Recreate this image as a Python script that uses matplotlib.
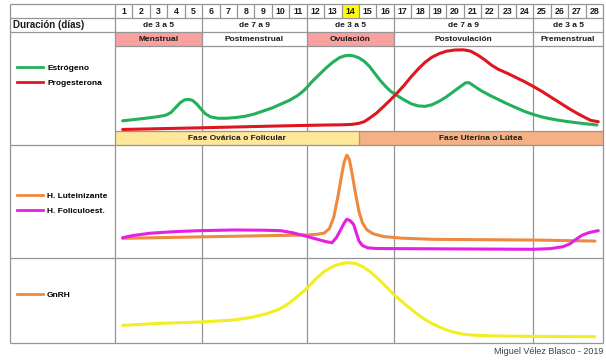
import matplotlib
matplotlib.use('Agg')
import matplotlib.pyplot as plt
from matplotlib.patches import Rectangle
from matplotlib.lines import Line2D

plt.rcParams['font.family'] = ['Liberation Sans Narrow', 'Liberation Sans', 'DejaVu Sans']

# ---------------- data ----------------
days = list(range(1, 29))
highlight_day = 14
stage_ends = [5, 11, 16, 24, 28]
durations = ['de 3 a 5', 'de 7 a 9', 'de 3 a 5', 'de 7 a 9', 'de 3 a 5']
stages = ['Menstrual', 'Postmenstrual', 'Ovulación', 'Postovulación', 'Premenstrual']
phase_names = ['Fase Ovárica o Folicular', 'Fase Uterina o Lútea']
phase_ends = [14, 28]

# x in days (0 = start of day 1), y in % of panel height
estro_x = [0.44, 1.0, 1.5, 2.0, 2.5, 2.9, 3.2, 3.5, 3.75, 4.0, 4.2, 4.45, 4.7, 4.95, 5.2, 5.5,
           5.9, 6.4, 7.0, 7.5, 8.0, 8.5, 9.0, 9.5, 10.0, 10.5, 10.8, 11.0, 11.3, 11.7, 12.1,
           12.5, 12.9, 13.2, 13.45, 13.7, 14.0, 14.3, 14.6, 14.9, 15.2, 15.5, 15.8, 16.2, 16.6,
           17.0, 17.4, 17.8, 18.2, 18.6, 19.0, 19.4, 19.8, 20.1, 20.3, 20.6, 21.0, 21.5, 22.0,
           22.5, 23.0, 23.5, 24.0, 24.5, 25.0, 25.5, 26.0, 26.5, 27.0, 27.65]
estro_y = [12, 13.2, 14.4, 15.6, 17, 18.5, 21.5, 28, 33.5, 36.7, 37.3, 36, 31.5, 25.5, 20, 16.5,
           15, 15, 16, 17.5, 20, 23.5, 27, 31.5, 36, 42, 47, 51, 58, 66, 74,
           81, 86.5, 88.5, 89, 88.3, 86, 82, 76, 68, 60, 53, 47, 41.5, 36.5,
           32, 29.5, 29, 31, 35, 40, 46, 52, 56.5, 57, 53, 47.5, 42, 37,
           32, 27.5, 23, 19.5, 16.5, 14.3, 12.5, 11, 9.7, 8.5, 7.1]

proge_x = [0.44, 5.0, 10.0, 11.0, 12.0, 13.0, 13.6, 14.0, 14.3, 14.6, 15.0, 15.4, 15.8, 16.2,
           16.6, 17.0, 17.4, 17.8, 18.2, 18.6, 19.0, 19.5, 20.0, 20.4, 20.8, 21.2, 21.6, 22.0,
           22.5, 23.0, 23.5, 24.0, 24.5, 25.0, 25.5, 26.0, 26.5, 27.0, 27.3, 27.73]
proge_y = [1.8, 3.8, 6.2, 6.6, 7.0, 7.3, 7.8, 9, 11, 15, 21, 28.6, 36.5, 45,
           54, 64, 73, 81, 87, 91, 93.8, 95.3, 95.5, 94, 89.5, 84, 77.5, 72.5,
           68, 63, 58, 52.5, 46.5, 40, 33.5, 27, 21, 15.5, 12.5, 10.9]

lh_x = [0.44, 6.0, 11.0, 11.6, 12.0, 12.3, 12.55, 12.8, 13.0, 13.15, 13.3, 13.45, 13.6, 13.8,
        14.0, 14.2, 14.45, 14.8, 15.4, 16.5, 18.3, 24.0, 27.54]
lh_y = [17.4, 19, 20.4, 21, 22, 26, 36, 55, 73, 85, 91, 87, 75, 57,
        41, 31, 25, 21.5, 19, 17.5, 16.5, 15.9, 15.0]

fsh_x = [0.44, 1.0, 2.0, 3.5, 4.9, 6.8, 8.5, 9.5, 10.2, 10.8, 11.5, 12.1, 12.45, 12.7, 12.95,
         13.15, 13.3, 13.5, 13.7, 13.85, 14.0, 14.2, 14.5, 15.0, 20.0, 24.0, 25.0, 25.7, 26.1,
         26.45, 26.8, 27.2, 27.73]
fsh_y = [18, 19.8, 21.9, 23.4, 24.2, 24.8, 24.6, 24.2, 22.3, 20, 17, 14.5, 13.5, 18, 25,
         31, 34.3, 33, 29.5, 22, 15, 11, 9, 8.4, 8.0, 7.7, 8.3, 10, 12.5,
         16.5, 20.2, 22.5, 24.2]

gnrh_x = [0.44, 2.5, 4.88, 6.8, 7.8, 8.7, 9.4, 10.0, 10.6, 11.0, 11.5, 12.0, 12.5, 13.0, 13.4,
          13.8, 14.2, 14.6, 15.0, 15.5, 16.0, 16.5, 17.0, 17.5, 18.0, 18.5, 19.0, 19.5, 20.0,
          20.7, 22.0, 24.0, 27.54]
gnrh_y = [20.8, 23, 24.7, 27, 30, 34.5, 39.5, 47, 57, 64, 75, 84, 90, 93.5, 94.5,
          93.5, 90, 84.5, 77.5, 67.5, 57, 48, 39.5, 31.5, 25, 19.8, 15.5, 12.3, 10.3,
          9, 8.2, 7.8, 7.4]

# ---------------- style ----------------
C_GREEN = '#22B05A'
C_RED = '#E0161E'
C_ORANGE = '#EE8A40'
C_MAG = '#E61EE6'
C_YEL = '#F3EE22'
C_PINK = '#F9A0A0'
C_PH1 = '#FFE699'
C_PH2 = '#F4B183'
C_HL = '#FFFF00'
GRID = '#959595'
TXT = '#1A1A1A'

W, H = 606, 360
fig = plt.figure(figsize=(W / 100, H / 100), dpi=100)
bg = fig.add_axes([0, 0, 1, 1])
bg.set_xlim(0, W)
bg.set_ylim(H, 0)
bg.axis('off')

X0, X1, L0 = 115, 603, 10
R0, R1, R2, R3 = 4, 18, 32, 46
C1B, PB, C2B, C3B = 131, 145, 258, 343


def dx(d):
    return X0 + d * (X1 - X0) / 28.0


# fills
bg.add_patch(Rectangle((dx(highlight_day - 1), R0), dx(1) - dx(0), R1 - R0, facecolor=C_HL, lw=0, zorder=1))
prev = 0
for end, lab in zip(stage_ends, stages):
    if lab in ('Menstrual', 'Ovulación'):
        bg.add_patch(Rectangle((dx(prev), R2), dx(end) - dx(prev), R3 - R2, facecolor=C_PINK, lw=0, zorder=1))
    prev = end
prev = 0
for end, col in zip(phase_ends, [C_PH1, C_PH2]):
    bg.add_patch(Rectangle((dx(prev), C1B), dx(end) - dx(prev), PB - C1B, facecolor=col, lw=0, zorder=1))
    prev = end

# grid lines
lk = dict(color=GRID, lw=0.9, zorder=2, solid_capstyle='butt')
for y in (R0, R1, R2, PB, C2B, C3B):
    bg.plot([L0, X1], [y, y], **lk)
for y in (R3, C1B):
    bg.plot([X0, X1], [y, y], **lk)
bg.plot([L0, L0], [R0, C3B], **lk)
bg.plot([X1, X1], [R0, C3B], **lk)
bg.plot([X0, X0], [R0, C3B], **lk)
for d in days[:-1]:
    bg.plot([dx(d), dx(d)], [R0, R1], **lk)
for e in stage_ends[:-1]:
    bg.plot([dx(e), dx(e)], [R1, C1B], **lk)
    bg.plot([dx(e), dx(e)], [PB, C3B], **lk)
bg.plot([dx(phase_ends[0]), dx(phase_ends[0])], [C1B, PB], color='#C09060', lw=0.9, zorder=2)

# texts
FS = 6.0
for d in days:
    bg.text((dx(d - 1) + dx(d)) / 2, (R0 + R1) / 2 + 0.5, str(d), ha='center', va='center',
            fontsize=6.3, fontweight='bold', color=TXT, zorder=3)
bg.text(L0 + 3, (R1 + R2) / 2, 'Duración (días)', ha='left', va='center', fontsize=7,
        fontweight='bold', color=TXT, zorder=3)
prev = 0
for end, dur, st in zip(stage_ends, durations, stages):
    cx = (dx(prev) + dx(end)) / 2
    bg.text(cx, (R1 + R2) / 2 + 0.5, dur, ha='center', va='center', fontsize=FS,
            fontweight='bold', color=TXT, zorder=3)
    bg.text(cx, (R2 + R3) / 2 + 0.5, st, ha='center', va='center', fontsize=FS,
            fontweight='bold', color=TXT, zorder=3)
    prev = end
prev = 0
for end, nm in zip(phase_ends, phase_names):
    bg.text((dx(prev) + dx(end)) / 2, (C1B + PB) / 2 + 0.5, nm, ha='center', va='center',
            fontsize=FS, fontweight='bold', color=TXT, zorder=3)
    prev = end
bg.text(X1, 352, 'Miguel Vélez Blasco - 2019', ha='right', va='center', fontsize=6.5,
        family=['Liberation Sans', 'DejaVu Sans'], color='#404040')


# panels
def panel(top, bottom):
    ax = fig.add_axes([X0 / W, 1 - bottom / H, (X1 - X0) / W, (bottom - top) / H])
    ax.set_xlim(0, 28)
    ax.set_ylim(0, 100)
    ax.axis('off')
    ax.patch.set_alpha(0)
    return ax


LW = 2.2
pk = dict(lw=LW, solid_joinstyle='round', solid_capstyle='round')
ax1 = panel(R3, C1B)
ax1.plot(estro_x, estro_y, color=C_GREEN, **pk)
ax1.plot(proge_x, proge_y, color=C_RED, **pk)
ax2 = panel(PB, C2B)
ax2.plot(lh_x, lh_y, color=C_ORANGE, **pk)
ax2.plot(fsh_x, fsh_y, color=C_MAG, **pk)
ax3 = panel(C2B, C3B)
ax3.plot(gnrh_x, gnrh_y, color=C_YEL, **pk)

# legends
lgk = dict(loc='upper left', frameon=False, borderpad=0, borderaxespad=0, handlelength=3.1,
           handletextpad=0.5, labelspacing=0.8, bbox_transform=bg.transData,
           prop={'size': 6.0, 'weight': 'bold'})
l1 = bg.legend([Line2D([], [], color=C_GREEN, lw=2), Line2D([], [], color=C_RED, lw=2)],
               ['Estrógeno', 'Progesterona'], bbox_to_anchor=(17, 64.5), **lgk)
bg.add_artist(l1)
l2 = bg.legend([Line2D([], [], color=C_ORANGE, lw=2), Line2D([], [], color=C_MAG, lw=2)],
               ['H. Luteinizante', 'H. Foliculoest.'], bbox_to_anchor=(17, 192.5), **lgk)
bg.add_artist(l2)
bg.legend([Line2D([], [], color=C_ORANGE, lw=2)], ['GnRH'], bbox_to_anchor=(17, 291.5), **lgk)

fig.savefig('out.png', dpi=100)
